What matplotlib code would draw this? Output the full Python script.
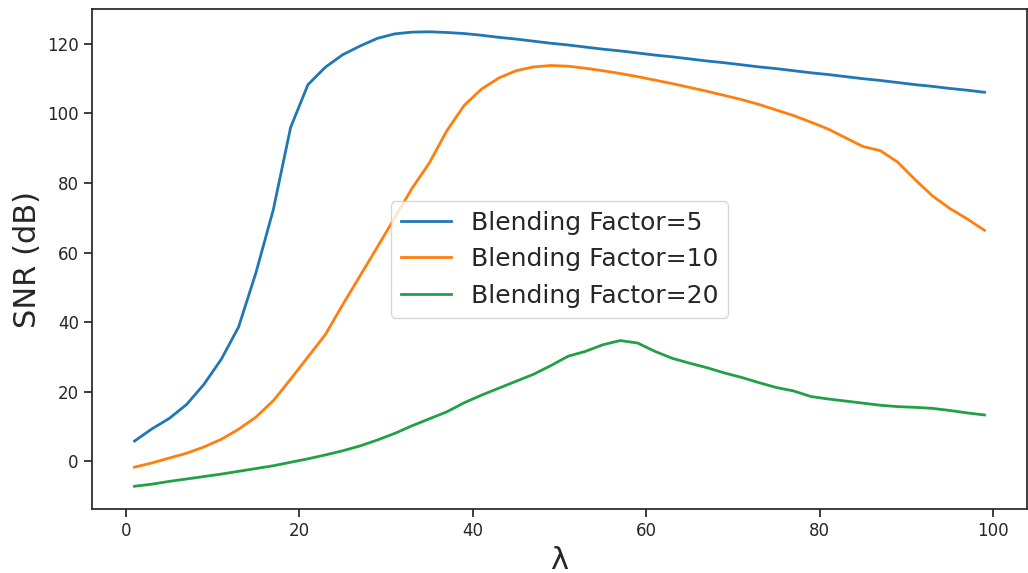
import matplotlib
matplotlib.use("Agg")
import matplotlib.pyplot as plt

lam = list(range(1, 100, 2))

snr_bf5 = [5.8, 9.3, 12.3, 16.3, 22.1, 29.3, 38.6, 54.2, 72.3, 96.0,
           108.3, 113.3, 116.9, 119.4, 121.6, 122.9, 123.4, 123.5, 123.3, 123.0,
           122.5, 121.9, 121.4, 120.8, 120.2, 119.7, 119.1, 118.5, 118.0, 117.4,
           116.8, 116.3, 115.7, 115.1, 114.6, 114.0, 113.4, 112.9, 112.3, 111.7,
           111.2, 110.6, 110.0, 109.5, 108.9, 108.3, 107.8, 107.2, 106.7, 106.1]

snr_bf10 = [-1.7, -0.5, 0.9, 2.3, 4.1, 6.3, 9.2, 12.7, 17.4, 23.6,
            30.0, 36.4, 45.0, 53.3, 61.6, 70.0, 78.5, 85.8, 95.0, 102.3,
            107.0, 110.2, 112.3, 113.4, 113.8, 113.6, 113.0, 112.3, 111.5, 110.6,
            109.6, 108.6, 107.5, 106.4, 105.2, 104.0, 102.6, 101.0, 99.4, 97.5,
            95.5, 93.0, 90.5, 89.3, 86.0, 81.0, 76.3, 72.7, 69.7, 66.4]

snr_bf20 = [-7.2, -6.6, -5.8, -5.1, -4.4, -3.7, -2.9, -2.1, -1.3, -0.3,
            0.7, 1.8, 3.0, 4.4, 6.1, 8.0, 10.2, 12.2, 14.2, 16.8,
            19.0, 21.0, 23.0, 25.0, 27.5, 30.2, 31.6, 33.5, 34.7, 34.0,
            31.6, 29.6, 28.2, 26.9, 25.4, 24.1, 22.6, 21.2, 20.2, 18.6,
            17.9, 17.3, 16.7, 16.1, 15.7, 15.5, 15.2, 14.6, 13.9, 13.3]

series = [
    ("Blending Factor=5", snr_bf5, "#1f77b4"),
    ("Blending Factor=10", snr_bf10, "#ff7f0e"),
    ("Blending Factor=20", snr_bf20, "#22a046"),
]

dark = "#262626"
plt.rcParams["font.family"] = ["DejaVu Sans"]

fig = plt.figure(figsize=(10.28, 5.73), dpi=100)
ax = fig.add_axes([0.0895, 0.1117, 0.9095, 0.8725])

for label, values, color in series:
    ax.plot(lam, values, color=color, linewidth=2.0, label=label)

ax.set_xlabel("λ", fontsize=22, color=dark)
ax.set_ylabel("SNR (dB)", fontsize=22, color=dark)
ax.set_xticks([0, 20, 40, 60, 80, 100])
ax.set_yticks([0, 20, 40, 60, 80, 100, 120])
ax.tick_params(axis="both", labelsize=12, colors=dark, length=6, width=1.25)
for sp in ax.spines.values():
    sp.set_color(dark)
    sp.set_linewidth(1.25)

leg = ax.legend(loc="center", fontsize=18, frameon=True)
leg.get_frame().set_edgecolor("0.8")
for t in leg.get_texts():
    t.set_color(dark)

fig.savefig("out.png", dpi=100)
